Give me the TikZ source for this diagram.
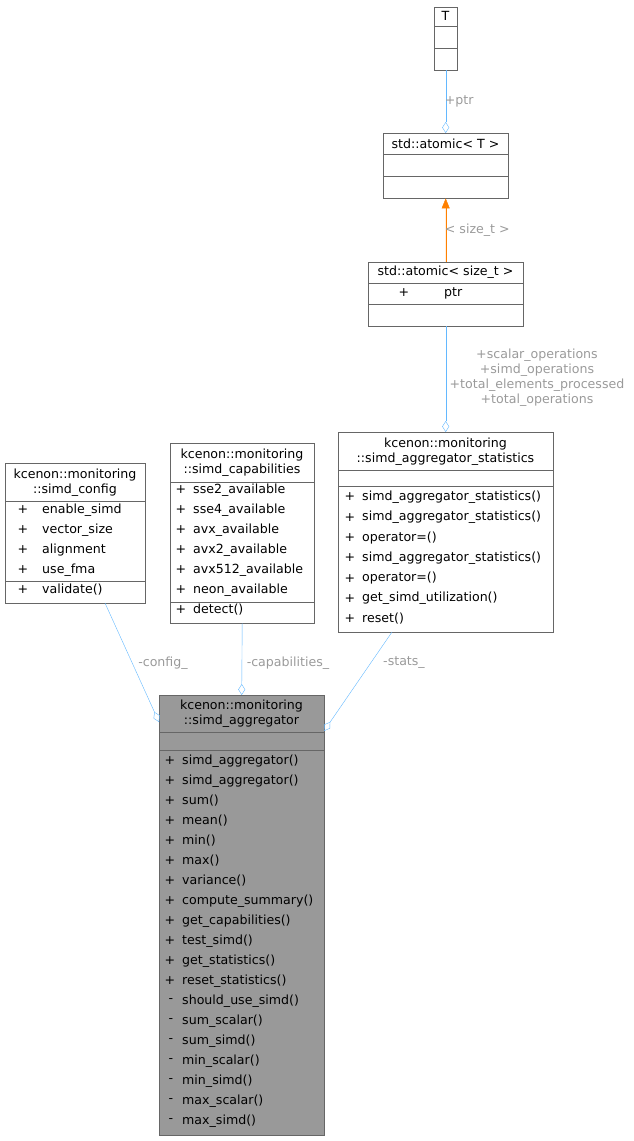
\documentclass[tikz,border=0pt]{standalone}
\usepackage{fontspec}
\setmainfont{DejaVu Sans}
\usetikzlibrary{arrows.meta}

\definecolor{edgeblue}{RGB}{99,184,255}
\definecolor{lblgrey}{RGB}{154,154,154}

\tikzset{
	cls/.style={draw=black!60, fill=white, inner sep=0pt, anchor=north west},
	mem/.style={anchor=west, inner sep=0pt, font=\fontsize{12.6}{15}\selectfont},
	sgn/.style={anchor=center, inner sep=0pt, font=\fontsize{12.6}{15}\selectfont},
	ttl/.style={anchor=center, inner sep=0pt, align=center, font=\fontsize{12.6}{15}\selectfont},
	lbl/.style={text=lblgrey, inner sep=1pt, align=center, font=\fontsize{12.6}{15}\selectfont},
	agg/.style={draw=edgeblue, {Diamond[open,length=11pt,width=7pt]}-},
	inh/.style={draw=orange, {Triangle[length=10pt,width=8pt]}-, fill=orange}
}

\begin{document}
\begin{tikzpicture}[x=1pt, y=-1pt]
	\useasboundingbox (0,0) rectangle (634,1141);

	% class boxes
	\node [cls, minimum width=23pt, minimum height=63pt] (t) at (434,7) {};
	\node [cls, minimum width=125pt, minimum height=65pt] (at) at (383,133) {};
	\node [cls, minimum width=155pt, minimum height=64pt] (as) at (368,262) {};
	\node [cls, minimum width=140pt, minimum height=140pt] (cfg) at (5,463) {};
	\node [cls, minimum width=144pt, minimum height=180pt] (cap) at (170,443) {};
	\node [cls, minimum width=215pt, minimum height=200pt] (st) at (338,432) {};
	\node [cls, fill=black!40, minimum width=165pt, minimum height=440pt] (agg) at (159,695) {};

	% compartments
	\draw [black!60] (434,26) -- (457,26) (434,48) -- (457,48);
	\draw [black!60] (383,154) -- (508,154) (383,176) -- (508,176);
	\draw [black!60] (368,283) -- (523,283) (368,304) -- (523,304);
	\draw [black!60] (5,501) -- (145,501) (5,581) -- (145,581);
	\draw [black!60] (170,482) -- (314,482) (170,602) -- (314,602);
	\draw [black!60] (338,470) -- (553,470) (338,486) -- (553,486);
	\draw [black!60] (159,732) -- (324,732) (159,750) -- (324,750);

	% titles
	\node [ttl] (tt) at (445.5,16) {T};
	\node [ttl] (att) at (445.5,144) {std::atomic< T >};
	\node [ttl] (ast) at (445.5,272) {std::atomic< size\_t >};
	\node [ttl] (cfgt) at (75,483) {kcenon::monitoring\\::simd\_config};
	\node [ttl] (capt) at (242,462.5) {kcenon::monitoring\\::simd\_capabilities};
	\node [ttl] (stt) at (445.5,451.5) {kcenon::monitoring\\::simd\_aggregator\_statistics};
	\node [ttl] (aggt) at (241.5,713.5) {kcenon::monitoring\\::simd\_aggregator};

	% members
	\node [sgn] (asp) at (404,293) {+};
	\node [mem] (asm) at (444,293) {ptr};
	\foreach \n [count=\i from 0] in {enable\_simd,vector\_size,alignment,use\_fma,validate()} {
		\node [sgn] at (23,510+20*\i) {+};
		\node [mem] at (42,510+20*\i) {\n};
	}
	\foreach \n [count=\i from 0] in {sse2\_available,sse4\_available,avx\_available,avx2\_available,avx512\_available,neon\_available,detect()} {
		\node [sgn] at (181,490+20*\i) {+};
		\node [mem] at (193,490+20*\i) {\n};
	}
	\foreach \n [count=\i from 0] in {simd\_aggregator\_statistics(),simd\_aggregator\_statistics(),operator=(),simd\_aggregator\_statistics(),operator=(),get\_simd\_utilization(),reset()} {
		\node [sgn] at (350,497+20.3*\i) {+};
		\node [mem] at (362,497+20.3*\i) {\n};
	}
	\foreach \n [count=\i from 0] in {simd\_aggregator(),simd\_aggregator(),sum(),mean(),min(),max(),variance(),compute\_summary(),get\_capabilities(),test\_simd(),get\_statistics(),reset\_statistics()} {
		\node [sgn] at (170,761+20*\i) {+};
		\node [mem] at (182,761+20*\i) {\n};
	}
	\foreach \n [count=\i from 0] in {should\_use\_simd(),sum\_scalar(),sum\_simd(),min\_scalar(),min\_simd(),max\_scalar(),max\_simd()} {
		\node [sgn] at (171,1001+20*\i) {-};
		\node [mem] at (182,1001+20*\i) {\n};
	}

	% connectors
	\draw [agg] (at.north) -- node[lbl, right, pos=0.5, xshift=-2pt] {+ptr} (t.south);
	\draw [inh] (at.south) -- node[lbl, right, pos=0.5, xshift=-2pt] {< size\_t >} (as.north);
	\node [lbl, align=center] (lstat) at (537,378) {+scalar\_operations\\+simd\_operations\\+total\_elements\_processed\\+total\_operations};
	\draw [agg] (st.north) -- (as.south);
	\coordinate (cfgend) at (105,603);
	\coordinate (aggcfg) at (159,722);
	\draw [agg] (aggcfg) -- (cfgend);
	\node [lbl] (lcfg) at (163,663) {-config\_};
	\draw [agg] (agg.north) -- (cap.south);
	\node [lbl] (lcap) at (288,663) {-capabilities\_};
	\coordinate (stend) at (392,632);
	\coordinate (aggst) at (324,731);
	\draw [agg] (aggst) -- (stend);
	\node [lbl] (lst) at (404,663) {-stats\_};
\end{tikzpicture}
\end{document}
